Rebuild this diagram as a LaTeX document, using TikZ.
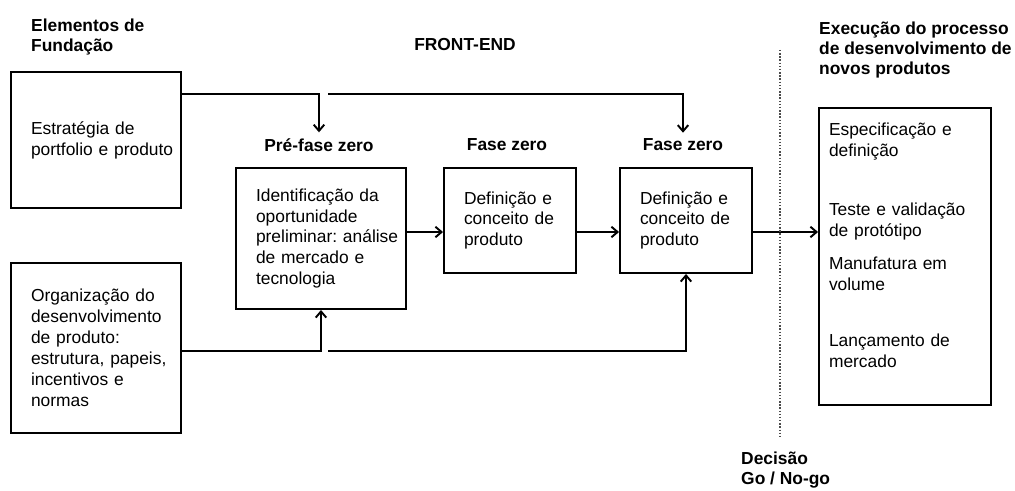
\documentclass[tikz,border=0pt]{standalone}
\usepackage{fontspec}
\setmainfont{Liberation Sans}
\usetikzlibrary{arrows.meta}
\frenchspacing
\begin{document}
\begin{tikzpicture}[font=\fontsize{9.9}{11.9}\selectfont,
	caixa/.style={draw,line width=1.1pt,align=left,inner xsep=0.4cm,inner ysep=0pt},
	titulo/.style={font=\fontsize{9.9}{11.4}\selectfont\bfseries,align=left},
	>={Straight Barb[length=3.5pt,width=6pt]}]
		\useasboundingbox (0,0) rectangle (20.3,-9.82);
		% titulos
		\node[titulo,anchor=west] (fund) at (0.50,-0.74) {Elementos de\\Fundação};
		\node[titulo] (frontend) at (9.3,-0.9) {FRONT-END};
		\node[titulo,anchor=west] (exec) at (16.26,-1.0) {Execução do processo\\de desenvolvimento de\\novos produtos};
		\node[titulo,anchor=west] (decisao) at (14.70,-9.4) {Decisão\\Go / No-go};
		\node[titulo] (rotpre) at (6.38,-2.9) {Pré-fase zero};
		\node[titulo] (rotf1) at (10.14,-2.9) {Fase zero};
		\node[titulo] (rotf2) at (13.66,-2.9) {Fase zero};
		% caixas
		\node[caixa,text width=2.6cm,minimum height=2.72cm] (estrat) at (1.92,-2.8) {Estratégia de\\\mbox{portfolio e produto}};
		\node[caixa,text width=2.6cm,minimum height=3.4cm] (org) at (1.92,-6.96) {Organização do\\desenvolvimento\\de produto:\\\mbox{estrutura, papeis,}\\incentivos e\\normas};
		\node[caixa,text width=2.6cm,minimum height=2.82cm] (pre) at (6.42,-4.77) {Identificação da\\oportunidade\\\mbox{preliminar: análise}\\de mercado e\\tecnologia};
		\node[caixa,text width=1.84cm,minimum height=2.1cm] (fase1) at (10.2,-4.41) {Definição e\\\mbox{conceito de}\\produto};
		\node[caixa,text width=1.84cm,minimum height=2.1cm] (fase2) at (13.72,-4.41) {Definição e\\\mbox{conceito de}\\produto};
		\node[caixa,inner xsep=0.2cm,text width=3.04cm,minimum height=5.94cm] (final) at (18.1,-5.13) {Especificação e\\definição\\[0.76cm]Teste e validação\\de protótipo\\[0.24cm]Manufatura em\\volume\\[0.7cm]Lançamento de\\mercado\\[0.04cm]\mbox{}};
		% ligacoes
		\coordinate (topo) at (0,-1.88);
		\coordinate (base) at (0,-7.02);
		\coordinate (seta) at (0,-4.64);
		\coordinate (quebra) at (6.56,0);
		\draw[line width=1.1pt,->] (estrat.east |- topo) -| (rotpre.north);
		\draw[line width=1.1pt,->] (quebra |- topo) -| (rotf2.north);
		\draw[line width=1.1pt,->] (org.east |- base) -| (pre.south);
		\draw[line width=1.1pt,->] (quebra |- base) -| (fase2.south);
		\draw[line width=1.1pt,->] (pre.east |- seta) -- (fase1.west |- seta);
		\draw[line width=1.1pt,->] (fase1.east |- seta) -- (fase2.west |- seta);
		\draw[line width=1.1pt,->] (fase2.east |- seta) -- (final.west |- seta);
		% decisao
		\coordinate (decA) at (15.6,-1.0);
		\coordinate (decB) at (15.6,-8.74);
		\draw[densely dotted,line width=0.8pt,black!70] (decA) -- (decB);
\end{tikzpicture}
\end{document}
